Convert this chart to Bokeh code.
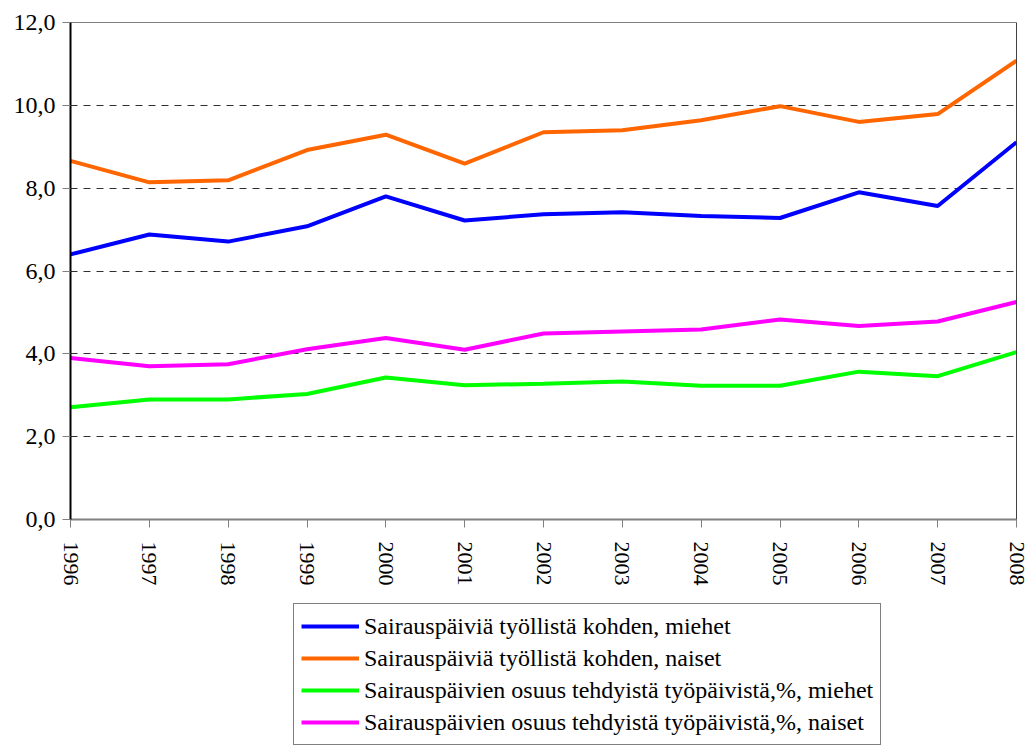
from bokeh.plotting import figure
from bokeh.layouts import column
from bokeh.models import (Range1d, FixedTicker, Legend, LegendItem, Span)
from bokeh.embed import file_html
from bokeh.resources import INLINE

years = [1996, 1997, 1998, 1999, 2000, 2001, 2002, 2003, 2004, 2005, 2006, 2007, 2008]
paivat_miehet = [6.40, 6.88, 6.71, 7.08, 7.80, 7.22, 7.37, 7.42, 7.33, 7.28, 7.90, 7.57, 9.11]
paivat_naiset = [8.66, 8.14, 8.19, 8.92, 9.29, 8.59, 9.35, 9.40, 9.64, 9.98, 9.60, 9.79, 11.08]
osuus_miehet = [2.71, 2.90, 2.90, 3.03, 3.43, 3.24, 3.28, 3.33, 3.23, 3.23, 3.57, 3.46, 4.04]
osuus_naiset = [3.90, 3.70, 3.75, 4.11, 4.38, 4.10, 4.49, 4.54, 4.59, 4.83, 4.67, 4.78, 5.25]

series_labels = [
    "Sairauspäiviä työllistä kohden, miehet",
    "Sairauspäiviä työllistä kohden, naiset",
    "Sairauspäivien osuus tehdyistä työpäivistä,%, miehet",
    "Sairauspäivien osuus tehdyistä työpäivistä,%, naiset",
]
series_colors = ["#0000FF", "#FF6600", "#00FF00", "#FF00FF"]
y_ticks = [0, 2, 4, 6, 8, 10, 12]
all_series = [paivat_miehet, paivat_naiset, osuus_miehet, osuus_naiset]

FONT = "'Liberation Serif'"

# ---------------- main chart ----------------
p = figure(width=1029, height=600, frame_width=946, frame_height=497,
           output_backend="svg", toolbar_location=None,
           x_range=Range1d(years[0], years[-1]), y_range=Range1d(0, 12),
           min_border_left=70, min_border_right=13, min_border_top=22,
           min_border_bottom=81)
p.background_fill_color = "white"
p.border_fill_color = "white"
p.outline_line_color = "#808080"
p.outline_line_width = 1

p.xaxis.ticker = FixedTicker(ticks=years)
p.xaxis.major_label_overrides = {y: str(y) for y in years}
p.xaxis.major_label_orientation = "vertical"
p.xaxis.major_label_text_font = FONT
p.xaxis.major_label_text_font_size = "22px"
p.xaxis.major_label_text_color = "black"
p.xaxis.major_label_standoff = 14
p.xaxis.axis_line_color = "#808080"
p.xaxis.axis_line_width = 2
p.xaxis.major_tick_line_color = "#808080"
p.xaxis.major_tick_line_width = 1
p.xaxis.major_tick_out = 8
p.xaxis.major_tick_in = 0
p.xaxis.minor_tick_line_color = None

p.yaxis.ticker = FixedTicker(ticks=y_ticks)
p.yaxis.major_label_overrides = {v: f"{v:.1f}".replace(".", ",") for v in y_ticks}
p.yaxis.major_label_text_font = FONT
p.yaxis.major_label_text_font_size = "24px"
p.yaxis.major_label_text_color = "black"
p.yaxis.major_label_standoff = 7
p.yaxis.axis_line_color = "black"
p.yaxis.axis_line_width = 2
p.yaxis.major_tick_line_color = "#808080"
p.yaxis.major_tick_out = 8
p.yaxis.major_tick_in = 0
p.yaxis.minor_tick_line_color = None

p.xgrid.grid_line_color = None
p.ygrid.grid_line_color = "#303030"
p.ygrid.grid_line_dash = "7 6"
p.ygrid.grid_line_width = 1

# right border of the plot area
p.add_layout(Span(location=years[-1], dimension="height", line_color="black", line_width=1))

for vals, col in zip(all_series, series_colors):
    p.line(years, vals, line_color=col, line_width=4)

# ---------------- legend strip ----------------
q = figure(width=1029, height=145, output_backend="svg", toolbar_location=None,
           x_axis_type=None, y_axis_type=None,
           min_border_left=0, min_border_right=0, min_border_top=0, min_border_bottom=0)
q.background_fill_color = "white"
q.border_fill_color = "white"
q.outline_line_color = None
q.grid.grid_line_color = None

leg_renderers = []
for vals, col in zip(all_series, series_colors):
    r = q.line(years, vals, line_color=col, line_width=4, visible=False)
    leg_renderers.append(r)

legend = Legend(items=[LegendItem(label=l, renderers=[r]) for l, r in zip(series_labels, leg_renderers)],
                location=(223, 0), orientation="vertical")
legend.label_text_font = FONT
legend.label_text_font_size = "24px"
legend.label_text_color = "black"
legend.glyph_width = 58
legend.glyph_height = 30
legend.label_height = 30
legend.spacing = 2
legend.padding = 7
legend.margin = 0
legend.label_standoff = 5
legend.border_line_color = "black"
legend.border_line_width = 1
legend.background_fill_color = "white"
legend.background_fill_alpha = 1
q.add_layout(legend, "center")

layout = column(p, q, spacing=0)
open("out.html", "w").write(file_html(layout, INLINE))
